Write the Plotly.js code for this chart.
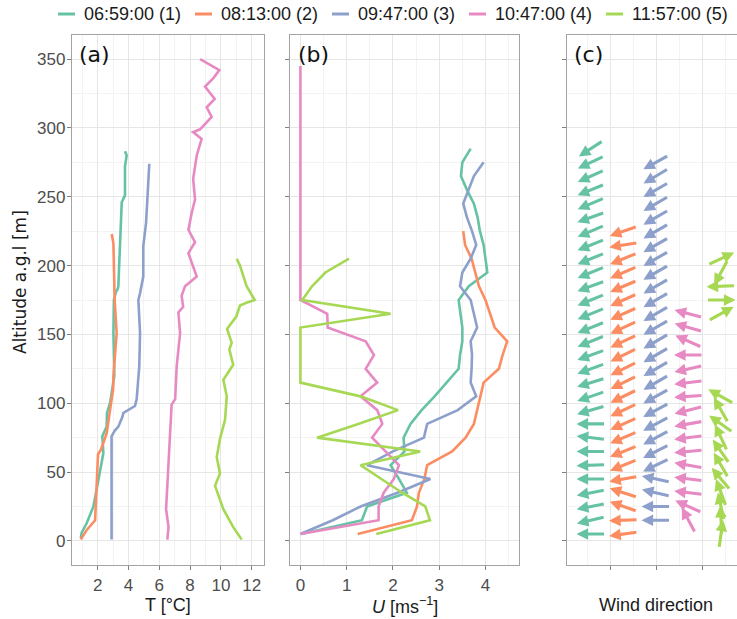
<!DOCTYPE html>
<html><head><meta charset="utf-8">
<script src="https://cdn.plot.ly/plotly-3.0.1.min.js"></script>
<style>html,body{margin:0;padding:0;background:#fff}#chart{width:737px;height:619px}</style>
</head><body><div id="chart"></div>
<script>
// ---------- series ----------
const seriesNames = ['06:59:00 (1)', '08:13:00 (2)', '09:47:00 (3)', '10:47:00 (4)', '11:57:00 (5)'];
const seriesColors = ['#66c2a5', '#fc8d62', '#8da0cb', '#e78ac3', '#a6d854'];

// ---------- panel (a): temperature profiles ----------
const tempZ1 = [2, 6, 13, 25, 44, 64, 76, 83, 93, 100, 120, 151, 175, 181, 183, 185, 202, 217, 236, 246, 251, 265, 272, 280, 283];
const tempT1 = [0.9, 0.96, 1.29, 1.72, 2.04, 2.37, 2.3, 2.58, 2.6, 2.8, 3.08, 3.02, 3.05, 3.19, 3.3, 3.34, 3.4, 3.45, 3.49, 3.56, 3.77, 3.8, 3.77, 3.88, 3.77];
const tempZ2 = [1, 8, 15, 30, 49, 63, 66, 78, 95, 110, 120, 140, 151, 175, 200, 216, 223];
const tempT2 = [0.9, 1.29, 1.83, 1.9, 1.94, 2.02, 2.2, 2.58, 2.8, 3.0, 3.02, 3.15, 3.23, 3.1, 3.05, 3.02, 2.91];
const tempZ3 = [1, 54, 76, 80, 83, 90, 93, 98, 103, 127, 140, 151, 175, 180, 192, 214, 231, 246, 260, 268, 274];
const tempT3 = [2.9, 2.9, 2.9, 3.1, 3.34, 3.6, 3.67, 4.42, 4.53, 4.7, 4.72, 4.75, 4.64, 4.75, 4.96, 4.96, 5.14, 5.22, 5.29, 5.3, 5.35];
const tempZ4 = [1, 10, 23, 35, 49, 78, 99, 103, 127, 151, 166, 170, 178, 185, 192, 200, 209, 217, 226, 238, 248, 263, 280, 292, 297, 299, 308, 315, 321, 330, 336, 342, 350];
const tempT4 = [6.52, 6.6, 6.44, 6.5, 6.6, 6.7, 6.8, 7.03, 7.13, 7.35, 7.24, 7.55, 7.45, 7.67, 8.43, 8.2, 7.89, 8.32, 7.89, 8.1, 8.32, 8.2, 8.43, 8.75, 8.2, 8.65, 9.4, 9.08, 9.6, 8.97, 9.5, 9.9, 8.65];
const tempZ5 = [1, 10, 23, 40, 49, 61, 74, 88, 105, 117, 128, 139, 144, 154, 163, 171, 173, 175, 185, 200, 205];
const tempT5 = [11.35, 10.8, 10.16, 9.62, 9.94, 9.73, 9.94, 10.27, 10.38, 10.16, 10.8, 10.55, 10.7, 10.4, 11.0, 11.24, 11.66, 12.2, 11.67, 11.24, 11.03];

// ---------- panel (b): wind speed profiles ----------
const windZ1 = [5, 15, 25, 35, 45, 55, 65, 75, 85, 95, 105, 115, 125, 135, 145, 155, 165, 175, 185, 195, 205, 215, 225, 235, 245, 255, 265, 275, 285];
const windU1 = [0.02, 1.33, 1.44, 2.3, 2.13, 1.95, 2.25, 2.23, 2.38, 2.62, 2.9, 3.17, 3.42, 3.45, 3.5, 3.5, 3.46, 3.42, 3.64, 4.04, 4.0, 3.96, 3.88, 3.83, 3.75, 3.6, 3.47, 3.5, 3.68];
const windZ2 = [5, 15, 25, 35, 45, 55, 65, 75, 85, 95, 105, 115, 125, 135, 145, 155, 165, 175, 185, 195, 205, 215, 225];
const windU2 = [1.24, 2.41, 2.52, 2.56, 2.68, 2.74, 3.28, 3.57, 3.75, 3.82, 3.89, 3.96, 4.29, 4.37, 4.47, 4.2, 4.1, 4.0, 3.86, 3.78, 3.7, 3.56, 3.52];
const windZ3 = [5, 15, 25, 35, 45, 55, 65, 75, 85, 95, 105, 115, 125, 135, 145, 155, 165, 175, 185, 195, 205, 215, 225, 235, 245, 255, 265, 275];
const windU3 = [0, 0.7, 1.3, 2.1, 2.81, 1.44, 2.0, 2.67, 2.74, 3.4, 3.8, 3.68, 3.7, 3.71, 3.68, 3.82, 3.75, 3.68, 3.45, 3.5, 3.68, 3.8, 3.71, 3.6, 3.52, 3.64, 3.75, 3.96];
const windZ4 = [5, 15, 25, 35, 45, 55, 65, 75, 85, 95, 105, 115, 125, 135, 145, 155, 165, 175, 185, 195, 205, 215, 225, 235, 245, 255, 265, 275, 285, 295, 305, 315, 325, 335, 345];
const windU4 = [0, 1.69, 1.69, 1.8, 2.02, 2.13, 1.84, 1.55, 1.77, 1.66, 1.3, 1.66, 1.41, 1.59, 1.41, 0.59, 0.58, 0, 0, 0, 0, 0, 0, 0, 0, 0, 0, 0, 0, 0, 0, 0, 0, 0, 0];
const windZ5 = [5, 15, 25, 35, 45, 55, 65, 75, 85, 95, 105, 115, 125, 135, 145, 155, 165, 175, 185, 195, 205];
const windU5 = [1.64, 2.8, 2.7, 2.2, 1.75, 1.3, 2.59, 0.36, 1.25, 2.11, 1.3, 0, 0, 0, 0, 0, 1.95, 0.04, 0.25, 0.54, 1.05];

// ---------- panel (c): wind direction (bearing the arrow points to, degrees clockwise from up) ----------
const dirZ1 = [5, 15, 25, 35, 45, 55, 65, 75, 85, 95, 105, 115, 125, 135, 145, 155, 165, 175, 185, 195, 205, 215, 225, 235, 245, 255, 265, 275, 285];
const dirDeg1 = [270, 257, 259, 259, 270, 268, 270, 277, 270, 254, 251, 253, 250, 250, 248, 248, 248, 248, 250, 248, 248, 248, 247, 250, 247, 248, 246, 245, 237];
const dirZ2 = [5, 15, 25, 35, 45, 55, 65, 75, 85, 95, 105, 115, 125, 135, 145, 155, 165, 175, 185, 195, 205, 215, 225];
const dirDeg2 = [262, 268, 289, 288, 260, 248, 248, 247, 246, 245, 244, 244, 244, 244, 245, 245, 246, 246, 247, 247, 248, 261, 251];
const dirZ3 = [15, 25, 35, 45, 55, 65, 75, 85, 95, 105, 115, 125, 135, 145, 155, 165, 175, 185, 195, 205, 215, 225, 235, 245, 255, 265, 275];
const dirDeg3 = [270, 270, 283, 282, 244, 243, 242, 242, 242, 241, 240, 240, 240, 240, 240, 240, 240, 240, 240, 240, 240, 240, 240, 240, 240, 239, 241];
const dirZ4 = [15, 25, 35, 45, 55, 65, 75, 85, 95, 105, 115, 125, 135, 145, 155, 165];
const dirDeg4 = [332, 294, 277, 277, 280, 265, 263, 260, 256, 266, 263, 257, 270, 294, 286, 285];
const dirZ5 = [5, 15, 25, 35, 45, 55, 65, 75, 85, 95, 105, 165, 175, 185, 195, 205];
const dirDeg5 = [8, 357, 348, 340, 320, 330, 325, 335, 305, 330, 299, 61, 90, 268, 208, 65];

const tempT = [tempT1, tempT2, tempT3, tempT4, tempT5], tempZ = [tempZ1, tempZ2, tempZ3, tempZ4, tempZ5];
const windU = [windU1, windU2, windU3, windU4, windU5], windZ = [windZ1, windZ2, windZ3, windZ4, windZ5];
const dirDeg = [dirDeg1, dirDeg2, dirDeg3, dirDeg4, dirDeg5], dirZ = [dirZ1, dirZ2, dirZ3, dirZ4, dirZ5];

// ---------- geometry / style ----------
const W = 737, H = 619;
const fx = p => p / W, fy = p => 1 - p / H;
const yRange = [-17.5, 367.5];
const yDom = [fy(565), fy(35)];
const domA = [fx(72), fx(264)], domB = [fx(290), fx(519)], domC = [fx(567), 1];
const rangeC = [0.2615, 5.492];
const borderCol = '#a3a3a3', gridMajor = '#e6e6e6', gridMinor = '#f3f3f3';
const tickFont = {family: 'Liberation Sans, Arial, sans-serif', size: 17, color: '#4d4d4d'};
const titleFont = {family: 'Liberation Sans, Arial, sans-serif', size: 18, color: '#1a1a1a'};

function xax(dom, range, extra) {
  return Object.assign({domain: dom, range: range, showline: true, linecolor: borderCol, linewidth: 1.2, mirror: true,
    ticks: 'outside', ticklen: 4, tickcolor: '#7f7f7f', tickwidth: 1, showgrid: true, gridcolor: gridMajor, gridwidth: 1,
    zeroline: false, tickfont: tickFont, fixedrange: true}, extra);
}
function yax(anchor, labels, mirror) {
  return {domain: yDom, range: yRange, anchor: anchor, showline: true, linecolor: borderCol, linewidth: 1.2, mirror: mirror,
    ticks: 'outside', ticklen: 4, tickcolor: '#7f7f7f', tickwidth: 1, tick0: 0, dtick: 50, showticklabels: labels,
    showgrid: true, gridcolor: gridMajor, zeroline: false, tickfont: tickFont, ticklabelstandoff: -2,
    minor: {dtick: 25, tick0: 0, showgrid: true, gridcolor: gridMinor, ticks: ''}, fixedrange: true};
}

const traces = [];
for (let k = 0; k < 5; k++) {
  traces.push({type: 'scatter', mode: 'lines', x: tempT[k], y: tempZ[k], xaxis: 'x', yaxis: 'y',
    line: {color: seriesColors[k], width: 2.6}, name: seriesNames[k], showlegend: false, hoverinfo: 'skip'});
}
for (let k = 0; k < 5; k++) {
  traces.push({type: 'scatter', mode: 'lines', x: windU[k], y: windZ[k], xaxis: 'x2', yaxis: 'y2',
    line: {color: seriesColors[k], width: 2.6}, name: seriesNames[k], showlegend: false, hoverinfo: 'skip'});
}
// invisible anchor trace for panel (c) (arrow centres)
for (let k = 0; k < 5; k++) {
  traces.push({type: 'scatter', mode: 'markers', x: dirZ[k].map(() => k + 1), y: dirZ[k], xaxis: 'x3', yaxis: 'y3',
    marker: {size: 1, opacity: 0}, showlegend: false, hoverinfo: 'skip'});
}

// arrows, centred at (series position, altitude), constant on-screen length
const pxPerX = (domC[1] - domC[0]) * W / (rangeC[1] - rangeC[0]);
const pxPerY = (yDom[1] - yDom[0]) * H / (yRange[1] - yRange[0]);
const arrowLen = 29;
const annotations = [];
for (let k = 0; k < 5; k++) {
  dirDeg[k].forEach((d, i) => {
    const r = d * Math.PI / 180;
    const dx = Math.sin(r) * arrowLen / 2 / pxPerX, dy = Math.cos(r) * arrowLen / 2 / pxPerY;
    const xc = k + 1, yc = dirZ[k][i];
    annotations.push({xref: 'x3', yref: 'y3', axref: 'x3', ayref: 'y3', x: xc + dx, y: yc + dy, ax: xc - dx, ay: yc - dy,
      text: '', showarrow: true, arrowhead: 2, arrowsize: 0.75, arrowwidth: 3.1, arrowcolor: seriesColors[k], standoff: 0, startstandoff: 0});
  });
}

// panel labels
[['(a)', 77], ['(b)', 296], ['(c)', 572]].forEach(([t, x]) => {
  annotations.push({xref: 'paper', yref: 'paper', x: fx(x), y: fy(40), xanchor: 'left', yanchor: 'top', text: t, showarrow: false,
    font: {family: 'DejaVu Sans, sans-serif', size: 22, color: '#111'}});
});
// axis titles
annotations.push({xref: 'paper', yref: 'paper', x: fx(168), y: fy(605), xanchor: 'center', yanchor: 'middle', text: 'T [°C]', showarrow: false, font: titleFont});
annotations.push({xref: 'paper', yref: 'paper', x: fx(405), y: fy(605), xanchor: 'center', yanchor: 'middle', text: '<i>U</i> [ms<sup>−1</sup>]', showarrow: false, font: titleFont});
annotations.push({xref: 'paper', yref: 'paper', x: fx(656), y: fy(605), xanchor: 'center', yanchor: 'middle', text: 'Wind direction', showarrow: false, font: titleFont});
annotations.push({xref: 'paper', yref: 'paper', x: fx(20), y: fy(282), xanchor: 'center', yanchor: 'middle', textangle: -90, text: 'Altitude a.g.l [m]', showarrow: false,
  font: {family: 'DejaVu Sans, sans-serif', size: 17, color: '#1a1a1a'}});

// legend (custom, along the top)
const shapes = [];
const legX0 = 58, legPitch = 137, legY = 14;
seriesNames.forEach((n, k) => {
  const x0 = legX0 + k * legPitch;
  shapes.push({type: 'line', xref: 'paper', yref: 'paper', x0: fx(x0), x1: fx(x0 + 17), y0: fy(legY), y1: fy(legY), line: {color: seriesColors[k], width: 3}});
  annotations.push({xref: 'paper', yref: 'paper', x: fx(x0 + 24), y: fy(legY), xanchor: 'left', yanchor: 'middle', text: n, showarrow: false,
    font: {family: 'Liberation Sans, Arial, sans-serif', size: 18, color: '#1a1a1a'}});
});

const layout = {
  width: W, height: H, margin: {l: 0, r: 0, t: 0, b: 0}, paper_bgcolor: '#fff', plot_bgcolor: '#fff', showlegend: false,
  xaxis: xax(domA, [0.33, 12.8], {anchor: 'y', tick0: 0, dtick: 2, minor: {dtick: 1, tick0: 0, showgrid: true, gridcolor: gridMinor, ticks: ''}}),
  yaxis: yax('x', true, true),
  xaxis2: xax(domB, [-0.225, 4.725], {anchor: 'y2', tick0: 0, dtick: 1, minor: {dtick: 0.5, tick0: 0, showgrid: true, gridcolor: gridMinor, ticks: ''}}),
  yaxis2: yax('x2', false, true),
  xaxis3: xax(domC, rangeC, {anchor: 'y3', tick0: 1.5846, dtick: 1.4154, showticklabels: false,
    minor: {dtick: 0.7077, tick0: 0.877, showgrid: true, gridcolor: gridMinor, ticks: ''}}),
  yaxis3: yax('x3', false, false),
  annotations: annotations, shapes: shapes
};
Plotly.newPlot('chart', traces, layout, {staticPlot: true, displayModeBar: false});
</script></body></html>
